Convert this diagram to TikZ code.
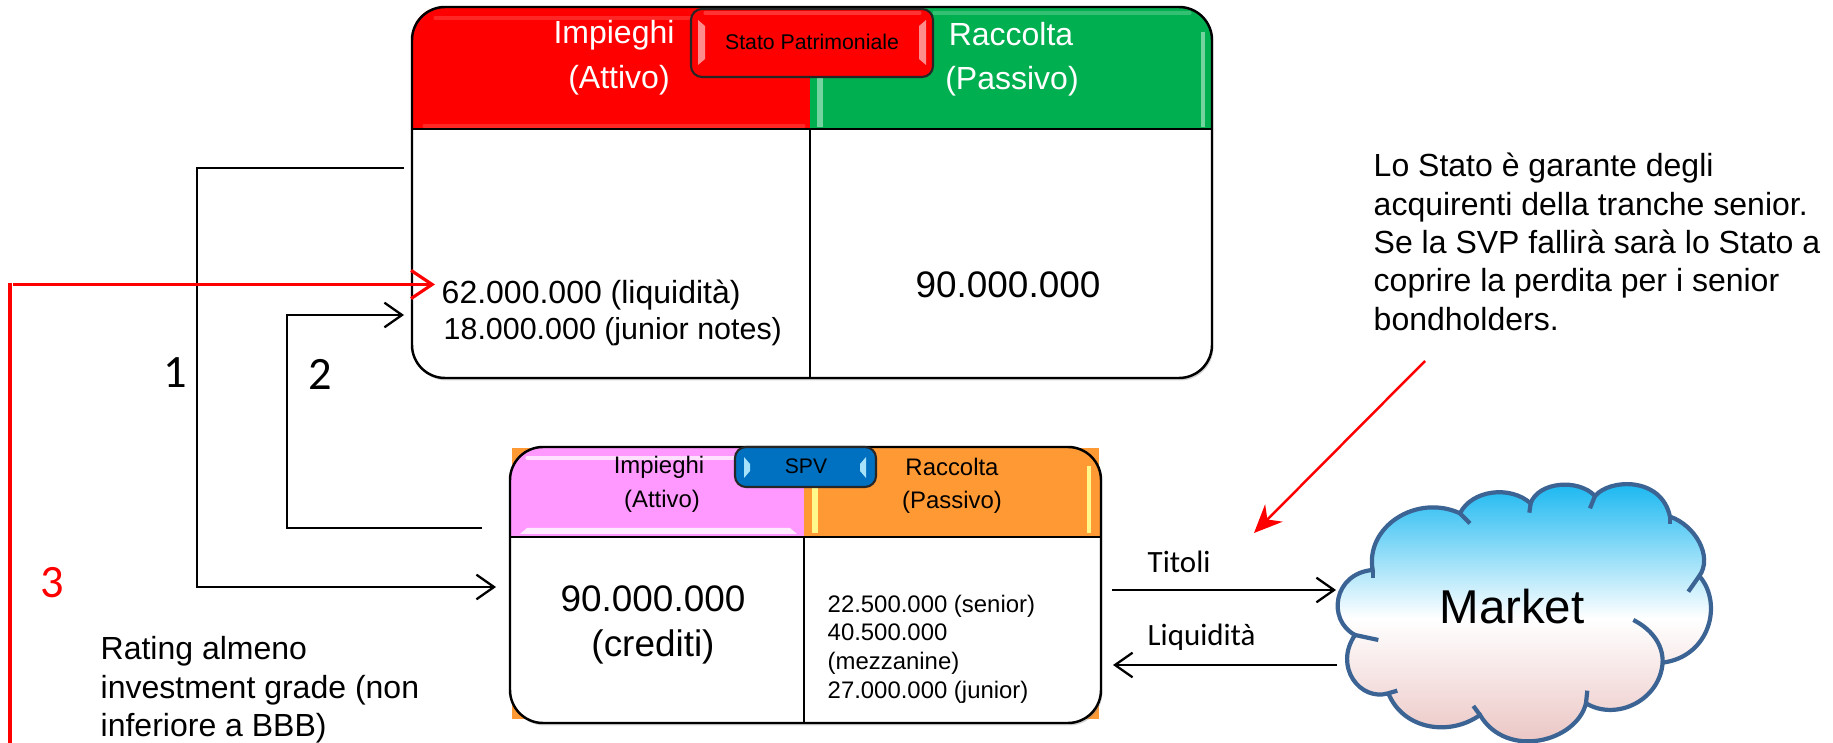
\documentclass[tikz,border=0pt]{standalone}
\usepackage{fontspec}
\setmainfont{Liberation Sans}
\newfontfamily\numfont{Carlito}
\usetikzlibrary{arrows.meta,shadows}
\definecolor{headpink}{HTML}{FF99FF}
\definecolor{headorange}{HTML}{FF9933}
\definecolor{headgreen}{HTML}{00B050}
\definecolor{spvblue}{HTML}{0070C0}
\definecolor{cloudline}{HTML}{3B6494}
\definecolor{cloudtop}{HTML}{0FB4F0}
\definecolor{cloudbot}{HTML}{E8BEBC}
\tikzset{
	label32/.style={inner sep=0pt, font=\fontsize{9.1}{10.9}\selectfont, align=left},
	label24/.style={inner sep=0pt, font=\fontsize{6.8}{8.15}\selectfont, align=left},
	label37/.style={inner sep=0pt, font=\fontsize{10.5}{13}\selectfont, align=center},
	labelnum/.style={inner sep=0pt, font=\numfont\fontsize{13.2}{15}\selectfont},
	labelflow/.style={inner sep=0pt, font=\numfont\fontsize{8.8}{10}\selectfont},
	flowline/.style={line width=0.65pt, -{Straight Barb[length=5pt,width=7pt]}},
	plainline/.style={line width=0.65pt},
	redline/.style={line width=0.9pt, red},
	frameline/.style={line width=0.7pt},
	button/.style={draw=black!85, line width=0.6pt, rounded corners=0.11cm},
	gloss/.style={line width=0.9pt, line cap=round},
	cloudedge/.style={line width=1.2pt, draw=cloudline}
}
\begin{document}
\begin{tikzpicture}[x=0.01cm, y=-0.01cm]
	%%%%% START %%%%%
	\useasboundingbox (0, 0) rectangle (1833, 743);
	
	% top balance sheet
	\fill[white, rounded corners=0.33cm, drop shadow={opacity=0.35, shadow xshift=0.4pt, shadow yshift=-0.7pt}] (412, 7) rectangle (1212, 378);
	\fill[red] (412, 129) [rounded corners=0.3cm] -- (412, 7) [sharp corners] -- (810, 7) -- (810, 129) -- cycle;
	\fill[headgreen] (810, 129) -- (810, 8) [rounded corners=0.3cm] -- (1212, 8) [sharp corners] -- (1212, 129) -- cycle;
	\draw[gloss, red!85!white] (435, 18) -- (690, 18);
	\draw[gloss, red!85!white] (424, 126) -- (804, 126);
	\draw[line width=1.8pt, headgreen!55!white] (820, 78) -- (820, 127);
	\draw[line width=1.4pt, headgreen!55!white] (1203, 32) -- (1203, 127);
	\draw[gloss, headgreen!80!white] (934, 13) -- (1190, 13);
	\draw[frameline, rounded corners=0.33cm] (412, 7) rectangle (1212, 378);
	\draw[frameline] (412, 129) -- (1212, 129);
	\draw[plainline] (810, 129) -- (810, 378);
	\node[label32, white] (assetshead) at (614, 35) {Impieghi};
	\node[label32, white] (assetsub) at (619, 80) {(Attivo)};
	\node[label32, white] (liabhead) at (1011, 34) {Raccolta};
	\node[label32, white] (liabsub) at (1012, 81) {(Passivo)};
	\draw[button, fill=red] (691, 9) rectangle (933, 77);
	\fill[red!45!white] (698, 20) -- (705, 26) -- (705, 59) -- (698, 65) -- cycle;
	\fill[red!45!white] (926, 20) -- (919, 26) -- (919, 59) -- (926, 65) -- cycle;
	\draw[gloss, red!80!white] (705, 13) -- (920, 13);
	\node[inner sep=0pt, font=\fontsize{6.05}{7}\selectfont] (statolabel) at (812, 42) {Stato Patrimoniale};
	\node[label37] (liabtotal) at (1008, 285) {90.000.000};
	\node[label32, anchor=west] (liquidity) at (441, 295) {62.000.000 (liquidità)};
	\node[label32, anchor=west, font=\fontsize{8.65}{10}\selectfont] (juniornotes) at (443, 332) {18.000.000 (junior notes)};
	
	% SPV balance sheet
	\fill[headorange] (512, 448) rectangle (1099, 719);
	\fill[white, rounded corners=0.33cm, drop shadow={opacity=0.35, shadow xshift=0.4pt, shadow yshift=-0.7pt}] (510, 447) rectangle (1101, 723);
	\fill[headpink] (510, 537) [rounded corners=0.3cm] -- (510, 447) [sharp corners] -- (804, 447) -- (804, 537) -- cycle;
	\fill[headorange] (804, 537) -- (804, 447) [rounded corners=0.3cm] -- (1101, 447) [sharp corners] -- (1101, 537) -- cycle;
	\draw[gloss, headpink!30!white] (527, 458) -- (736, 458);
	\fill[headpink!20!white] (520, 534) -- (527, 528) -- (790, 528) -- (797, 534) -- cycle;
	\draw[line width=1.5pt, yellow!45!white] (815, 488) -- (815, 533);
	\draw[line width=1.2pt, yellow!45!white] (1089, 466) -- (1089, 533);
	\draw[frameline, rounded corners=0.33cm] (510, 447) rectangle (1101, 723);
	\draw[frameline] (510, 537) -- (1101, 537);
	\draw[plainline] (804, 537) -- (804, 723);
	\node[label24] (spvhead) at (659, 467) {Impieghi};
	\node[label24] (spvsub) at (662, 501) {(Attivo)};
	\node[label24] (spvliab) at (952, 467) {Raccolta};
	\node[label24] (spvliabsub) at (952, 502) {(Passivo)};
	\draw[button, fill=spvblue] (735, 447) rectangle (876, 487);
	\fill[cyan!35!white] (744, 457) -- (750, 464) -- (750, 471) -- (744, 478) -- cycle;
	\fill[cyan!35!white] (866, 457) -- (860, 464) -- (860, 471) -- (866, 478) -- cycle;
	\node[inner sep=0pt, font=\fontsize{6}{7}\selectfont] (spvlabel) at (806, 466) {SPV};
	\node[label37] (credits) at (653, 625) {90.000.000\\(crediti)};
	\node[label24, anchor=west] (tranches) at (827, 649) {22.500.000 (senior)\\40.500.000\\(mezzanine)\\27.000.000 (junior)};
	
	% market
	\begin{scope}[shift={(1290, 470)}, scale=0.3333]
		\draw[cloudedge, top color=cloudtop, bottom color=cloudbot, middle color=white]
			(248, 300) .. controls (225, 170) and (380, 70) .. (510, 130)
			.. controls (545, 60) and (660, 45) .. (722, 100)
			.. controls (745, 35) and (865, 25) .. (915, 78)
			.. controls (960, 25) and (1115, 20) .. (1140, 140)
			.. controls (1215, 165) and (1270, 260) .. (1228, 318)
			.. controls (1300, 400) and (1260, 560) .. (1118, 578)
			.. controls (1110, 690) and (980, 755) .. (888, 700)
			.. controls (860, 815) and (650, 870) .. (570, 735)
			.. controls (480, 800) and (340, 780) .. (295, 670)
			.. controls (210, 695) and (130, 590) .. (195, 495)
			.. controls (110, 450) and (130, 310) .. (248, 300) -- cycle;
		\draw[cloudedge] (510, 130) -- (540, 160);
		\draw[cloudedge] (722, 100) -- (718, 128);
		\draw[cloudedge] (915, 78) -- (900, 115);
		\draw[cloudedge] (1140, 140) -- (1140, 162);
		\draw[cloudedge] (1228, 318) -- (1195, 365);
		\draw[cloudedge] (1118, 578) .. controls (1120, 520) and (1080, 475) .. (1030, 450);
		\draw[cloudedge] (888, 700) -- (892, 662);
		\draw[cloudedge] (570, 735) -- (550, 708);
		\draw[cloudedge] (295, 670) -- (322, 662);
		\draw[cloudedge] (195, 495) -- (265, 510);
		\draw[cloudedge] (248, 300) -- (248, 325);
	\end{scope}
	\node[inner sep=0pt, font=\fontsize{13.5}{15}\selectfont] (market) at (1512, 607) {Market};
	
	% flows
	\coordinate (onestart) at (404, 168);
	\coordinate (onetop) at (197, 168);
	\coordinate (onebot) at (197, 587);
	\coordinate (oneend) at (496, 587);
	\draw[flowline] (onestart) -- (onetop) -- (onebot) -- (oneend);
	\coordinate (twostart) at (482, 528);
	\coordinate (twobot) at (287, 528);
	\coordinate (twotop) at (287, 315);
	\coordinate (twoend) at (404, 315);
	\draw[flowline] (twostart) -- (twobot) -- (twotop) -- (twoend);
	\coordinate (threefoot) at (10, 743);
	\coordinate (threetop) at (10, 283);
	\coordinate (threestart) at (13, 284.5);
	\coordinate (threeend) at (435, 284.5);
	\draw[redline] (threefoot) -- (threetop);
	\draw[redline, -{Straight Barb[length=6pt,width=8pt]}] (threestart) -- (threeend);
	\node[labelnum] (numone) at (175, 373) {1};
	\node[labelnum] (numtwo) at (320, 374) {2};
	\node[labelnum, red] (numthree) at (52, 583) {3};
	
	\coordinate (titolistart) at (1112, 590);
	\coordinate (titoliend) at (1336, 590);
	\draw[flowline] (titolistart) -- (titoliend);
	\coordinate (liqstart) at (1337, 665);
	\coordinate (liqend) at (1113, 665);
	\draw[flowline] (liqstart) -- (liqend);
	\node[labelflow, anchor=west] (titoli) at (1147, 562) {Titoli};
	\node[labelflow, anchor=west] (liquidita) at (1147, 637) {Liquidità};
	
	% notes
	\node[label32, anchor=west] (statenote) at (1373, 242) {Lo Stato è garante degli\\acquirenti della tranche senior.\\Se la SVP fallirà sarà lo Stato a\\coprire la perdita per i senior\\bondholders.};
	\coordinate (notestart) at (1425, 361);
	\coordinate (noteend) at (1254, 533);
	\draw[line width=0.7pt, red, -{Stealth[length=8pt,width=7pt]}] (notestart) -- (noteend);
	\node[label32, anchor=west] (ratingnote) at (100, 690) {Rating almeno\\investment grade (non\\inferiore a BBB)};
	%%%%% END %%%%%
\end{tikzpicture}
\end{document}
